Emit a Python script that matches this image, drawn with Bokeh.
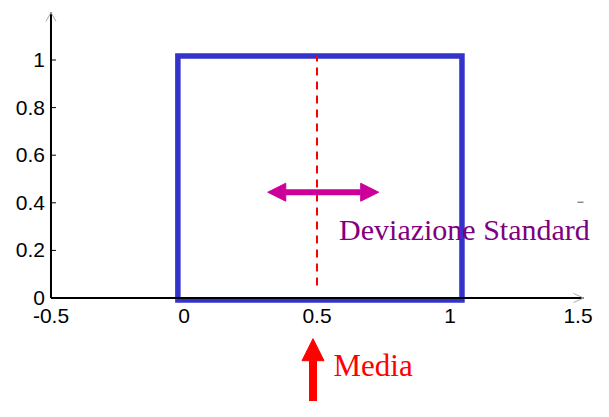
from bokeh.plotting import figure
from bokeh.models import Range1d, Arrow, NormalHead, ColumnDataSource
from bokeh.core.properties import value
from bokeh.embed import file_html
from bokeh.resources import INLINE

# ---- data ----
x_ticks = [-0.5, 0, 0.5, 1, 1.5]
x_tick_labels = ["-0.5", "0", "0.5", "1", "1.5"]
y_ticks = [0, 0.2, 0.4, 0.6, 0.8, 1]
y_tick_labels = ["0", "0.2", "0.4", "0.6", "0.8", "1"]

# uniform distribution box (as drawn)
dist_left = -0.023
dist_right = 1.045
dist_bottom = -0.008
dist_top = 1.017

# mean (dashed line)
mean_x = 0.5
mean_line_y = [0.0525, 1.019]

# standard deviation double arrow
sd_arrow_x = [0.315, 0.732]
sd_arrow_y = 0.4445

# mean arrow
mean_arrow_x = 0.485
mean_arrow_y = [-0.494, -0.171]

label_sd = "Deviazione Standard"
label_sd_pos = (0.583, 0.2857)
label_mean = "Media"
label_mean_pos = (0.562, -0.2836)

x_axis_end = 1.502
y_axis_end = 1.2

# pixel scale helpers (px per data unit)
PX_X = 266.0
PX_Y = 238.0

p = figure(width=593, height=401,
           x_range=Range1d(-0.6898, 1.5395), y_range=Range1d(-0.4349, 1.25),
           x_axis_type=None, y_axis_type=None,
           output_backend="svg", toolbar_location=None, min_border=0)
p.outline_line_color = None
p.background_fill_color = "white"
p.border_fill_color = "white"

# blue box
p.quad(left=[dist_left], right=[dist_right], bottom=[dist_bottom], top=[dist_top],
       fill_alpha=0, line_color="#3333CC", line_width=5.5, line_join="miter")

# axes
p.line([x_ticks[0], x_axis_end], [0, 0], line_color="black", line_width=2)
p.line([x_ticks[0], x_ticks[0]], [0, y_axis_end], line_color="black", line_width=2)
# axis arrow heads (thin gray)
p.line([x_axis_end - 10 / PX_X, x_axis_end, x_axis_end - 10 / PX_X],
       [4.5 / PX_Y, 0, -4.5 / PX_Y], line_color="#aaaaaa", line_width=1)
p.line([x_ticks[0] - 5 / PX_X, x_ticks[0], x_ticks[0] + 5 / PX_X],
       [y_axis_end - 9 / PX_Y, y_axis_end, y_axis_end - 9 / PX_Y],
       line_color="#aaaaaa", line_width=1)

# y ticks
p.segment(x0=[x_ticks[0]] * len(y_ticks), y0=y_ticks,
          x1=[x_ticks[0] + 5 / PX_X] * len(y_ticks), y1=y_ticks,
          line_color="black", line_width=1)

# tick labels
p.text(x=[x_ticks[0]] * len(y_ticks), y=y_ticks, text=y_tick_labels,
       text_font=value("Liberation Sans"), text_font_size="21px",
       text_align="right", text_baseline="alphabetic",
       x_offset=-6, y_offset=0, text_color="black")

# keep the last label inside the canvas edge
x_label_shift = [0 if t < x_ticks[-1] else -5 for t in x_ticks]
xsrc = ColumnDataSource(dict(x=x_ticks, y=[0] * len(x_ticks), text=x_tick_labels,
                             dx=x_label_shift))
p.text(x="x", y="y", text="text", source=xsrc,
       text_font=value("Liberation Sans"), text_font_size="21px",
       text_align="center", text_baseline="alphabetic",
       x_offset="dx", y_offset=18, text_color="black")

# small stray tick
p.line([1.479, 1.502], [0.4025, 0.4025], line_color="#555555", line_width=1)

# mean dashed line
p.line([mean_x, mean_x], mean_line_y, line_color="red", line_width=2, line_dash="8 6")

# sd double arrow
p.add_layout(Arrow(start=NormalHead(size=18, fill_color="#CC0099", line_color="#CC0099"),
                   end=NormalHead(size=18, fill_color="#CC0099", line_color="#CC0099"),
                   x_start=sd_arrow_x[0], y_start=sd_arrow_y,
                   x_end=sd_arrow_x[1], y_end=sd_arrow_y,
                   line_color="#CC0099", line_width=6))

# mean arrow
p.add_layout(Arrow(end=NormalHead(size=22, fill_color="red", line_color="red"),
                   x_start=mean_arrow_x, y_start=mean_arrow_y[0],
                   x_end=mean_arrow_x, y_end=mean_arrow_y[1],
                   line_color="red", line_width=8))

# labels
p.text(x=[label_sd_pos[0]], y=[label_sd_pos[1]], text=[label_sd],
       text_font=value("Liberation Serif"), text_font_size="30px",
       text_align="left", text_baseline="alphabetic", text_color="#800080")
p.text(x=[label_mean_pos[0]], y=[label_mean_pos[1]], text=[label_mean],
       text_font=value("Liberation Serif"), text_font_size="31px",
       text_align="left", text_baseline="alphabetic", text_color="red")

open("out.html", "w").write(file_html(p, INLINE))
